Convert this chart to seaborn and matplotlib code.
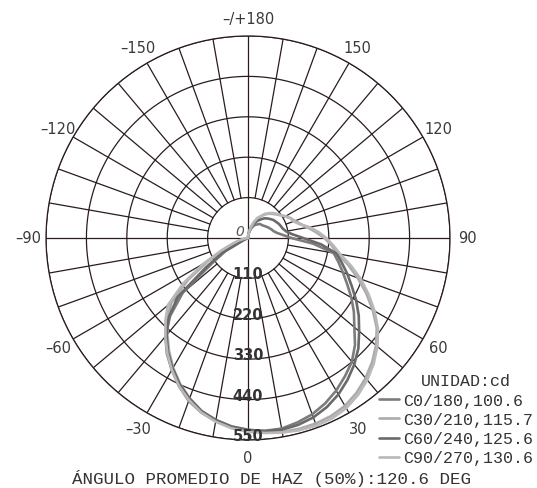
import numpy as np
import matplotlib
matplotlib.use("Agg")
import matplotlib.pyplot as plt
import pandas as pd
import seaborn as sns

# gamma angles (deg), 0 = straight down, positive to the right
angles = np.arange(-90, 181, 5)

c0 = [0, 0, 0, 0, 0, 10, 70, 118, 232, 300,
      350, 385, 415, 445, 472, 492, 506, 518,
      524, 527, 527, 520, 511, 497, 480, 460, 440, 412,
      378, 352, 325, 298, 275, 255, 237, 178, 118, 95,
      80, 72, 68, 64, 60, 56, 53, 51, 50, 45,
      42, 37, 30, 22, 14, 6, 0]
c30 = [0, 0, 5, 18, 35, 65, 125, 200, 272, 310,
       342, 375, 408, 438, 465, 488, 505, 518,
       526, 532, 536, 538, 538, 535, 528, 515, 498, 478,
       455, 428, 392, 355, 318, 282, 248, 228, 208, 185,
       165, 148, 136, 128, 118, 108, 100, 93, 86, 78,
       67, 57, 44, 30, 18, 8, 0]
c60 = [0, 0, 0, 0, 0, 15, 80, 140, 250, 305,
       345, 380, 410, 440, 465, 488, 503, 515,
       522, 528, 530, 527, 520, 508, 492, 472, 450, 425,
       395, 368, 340, 312, 288, 265, 245, 200, 150, 120,
       105, 98, 95, 92, 88, 85, 80, 75, 70, 62,
       55, 47, 38, 28, 18, 8, 0]
c90 = [0, 0, 8, 25, 45, 80, 140, 215, 285, 318,
       350, 383, 415, 445, 470, 492, 508, 520,
       528, 533, 538, 542, 544, 542, 535, 522, 505, 484,
       460, 432, 398, 362, 327, 290, 255, 233, 213, 192,
       170, 145, 132, 127, 117, 108, 102, 96, 88, 80,
       68, 60, 45, 30, 18, 8, 0]

names = ["C0/180,100.6", "C30/210,115.7", "C60/240,125.6", "C90/270,130.6"]
colors = ["#7c7c7c", "#ababab", "#6a6a6a", "#b8b8b8"]

ring_values = [110, 220, 330, 440, 550]
angle_ticks = [0, 30, 60, 90, 120, 150, 180, -150, -120, -90, -60, -30]
angle_labels = ["0", "30", "60", "90", "120", "150", "\u2013/+180",
                "\u2013150", "\u2013120", "\u201390", "\u201360", "\u201330"]

df = pd.concat([
    pd.DataFrame({"rad": np.deg2rad(angles), "cd": vals, "curve": n})
    for n, vals in zip(names, [c0, c30, c60, c90])
], ignore_index=True)

sns.set_style("white")
plt.rcParams["font.family"] = ["DejaVu Sans"]

fig = plt.figure(figsize=(5.37, 4.89), dpi=100)
ax = fig.add_axes([0.0857, 0.0982, 0.7523, 0.8262], projection="polar")
ax.set_theta_zero_location("S")
ax.set_theta_direction(1)

sns.lineplot(data=df, x="rad", y="cd", hue="curve", hue_order=names,
             palette=colors, sort=False, estimator=None, linewidth=1.9,
             legend=False, ax=ax, zorder=3)
handles = list(ax.lines[:4])

grid_col = "#2b1c1c"
full = np.linspace(0, 2 * np.pi, 361)
for r in ring_values:
    ax.plot(full, np.full_like(full, r), color=grid_col, lw=0.9, zorder=1)
for a in range(0, 360, 10):
    t = np.deg2rad(a)
    start = 0 if a % 90 == 0 else ring_values[0]
    ax.plot([t, t], [start, 550], color=grid_col, lw=0.9, zorder=1)

ax.set_ylim(0, 550)
ax.set_xticks([])
ax.set_yticks([])
ax.grid(False)
ax.set_xlabel("")
ax.set_ylabel("")
ax.spines["polar"].set_color(grid_col)
ax.spines["polar"].set_linewidth(0.9)

for a, lab in zip(angle_ticks, angle_labels):
    ax.text(np.deg2rad(a), 598, lab, ha="center", va="center",
            fontsize=10.5, color="#3a3a3a", clip_on=False)

for v in ring_values:
    ax.text(0, v - 12, str(v), ha="center", va="center", fontsize=10.5,
            fontweight="bold", color="#333333", zorder=4)
ax.text(np.deg2rad(-131), 29, "0", ha="center", va="center", fontsize=10,
        style="italic", color="#555555", zorder=4)

mono = "Liberation Mono"
fig.text(466 / 537, 1 - 381 / 489, "UNIDAD:cd", ha="center", va="center",
         fontsize=12, family=mono, color="#333333")
leg = fig.legend(handles, names, loc="upper left",
                 bbox_to_anchor=(379 / 537, 1 - 394 / 489), frameon=False,
                 prop={"family": mono, "size": 12}, handlelength=1.2,
                 handletextpad=0.25, labelspacing=0.25, borderpad=0,
                 borderaxespad=0)
for t in leg.get_texts():
    t.set_color("#333333")
fig.text(272 / 537, 1 - 479 / 489, "ÁNGULO PROMEDIO DE HAZ (50%):120.6 DEG",
         ha="center", va="center", fontsize=12.6, family=mono, color="#333333")

fig.savefig("out.png", dpi=100)
